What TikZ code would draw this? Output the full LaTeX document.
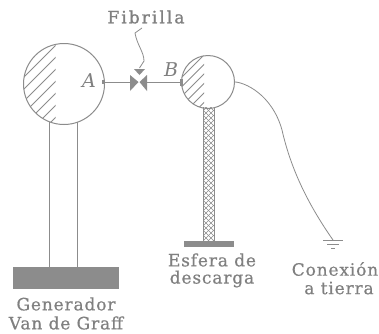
\documentclass[tikz,border=0pt]{standalone}
\usepackage{fontspec}
\setmainfont{DejaVu Serif}
\newfontfamily\labfont[LetterSpace=5,FakeBold=0.6]{DejaVu Serif}
\newfontfamily\fibfont[LetterSpace=12,FakeBold=1.2]{DejaVu Serif}
\definecolor{ink}{gray}{0.55}
\definecolor{inkd}{gray}{0.55}
\definecolor{txt}{gray}{0.5}
\tikzset{
  x=1pt,y=-1pt,
  ln/.style={draw=ink,line width=1pt},
  thin ln/.style={draw=ink,line width=0.8pt},
  solidfill/.style={fill=inkd,draw=none},
  lab/.style={text=txt,font=\labfont\fontsize{17}{19}\selectfont,inner sep=0pt,align=center},
  fiblab/.style={text=txt,font=\fibfont\fontsize{17}{19}\selectfont,inner sep=0pt},
  ital/.style={text=txt,font=\fontsize{19}{20}\itshape\selectfont,inner sep=0pt},
  sphere/.style={circle,ln,minimum size=#1,inner sep=0pt,outer sep=0pt},
}
\begin{document}
\begin{tikzpicture}
\useasboundingbox (0,0) rectangle (379,333);
\fill[white] (0,0) rectangle (379,333);
% sphere A
\node[sphere=81pt] (sa) at (64,84) {};
\begin{scope}
  \clip (64,84) circle (40.5);
  \clip (20,40) rectangle (55.5,128);
  \foreach \k in {0,...,11}{
    \draw[thin ln] (15,{62+12*\k}) -- (75,{2+12*\k});
  }
\end{scope}
% sphere B
\node[sphere=53pt] (sb) at (208,82) {};
\begin{scope}
  \clip (208,82) circle (26.5);
  \clip (178,50) rectangle (204,110);
  \foreach \k in {0,...,8}{
    \draw[thin ln] (170,{70+9.5*\k}) -- (215,{25+9.5*\k});
  }
\end{scope}
% stem A and base
\coordinate (al) at (49,121.5);
\coordinate (ar) at (77,122);
\node[solidfill,minimum width=106pt,minimum height=22pt,inner sep=0pt,outer sep=0pt] (basea) at (66,278) {};
\draw[ln] (al) -- (49,267);
\draw[ln] (ar) -- (77,267);
% stem B and base
\begin{scope}
  \clip (203,107) rectangle (214,240);
  \foreach \k in {0,...,40}{
    \draw[draw=ink,line width=0.55pt] (203,{100+5*\k}) -- (214,{111+5*\k});
    \draw[draw=ink,line width=0.55pt] (214,{100+5*\k}) -- (203,{111+5*\k});
  }
\end{scope}
\draw[ln] (203,107) -- (203,241);
\draw[ln] (214,107) -- (214,241);
\node[solidfill,minimum width=50pt,minimum height=6pt,inner sep=0pt,outer sep=0pt] (baseb) at (209,244) {};
% fibril
\coordinate (fl) at (130,82);
\coordinate (fr) at (147,82);
\fill[inkd] (130,75) -- (138.5,82) -- (130,91) -- cycle;
\fill[inkd] (147,75) -- (139.5,82) -- (147,91) -- cycle;
\draw[ln] (fl -| sa.east) -- (fl);
\draw[ln] (fl -| sb.west) -- (fr);
\fill[inkd] (102,80) rectangle (105,84);
\fill[inkd] (180,79) rectangle (183,86);
% arrow from label
\node[fiblab] (fib) at (146,17) {Fibrilla};
\coordinate (f0) at (142,28);
\coordinate (f1) at (135,33);
\coordinate (f2) at (144,61);
\draw[thin ln] (f0) -- (f1) .. controls (137,45) and (144,52) .. (f2) -- (139.5,68);
\fill[inkd] (134,69) -- (145,69) -- (139.5,75) -- cycle;
\node[ital] (la) at (89,81) {A};
\node[ital] (lb) at (171,70) {B};
% ground wire
\coordinate (g) at (333,240);
\draw[thin ln] (sb.east) .. controls (244,82) and (272,94) .. (282,130)
  .. controls (290,165) and (305,200) .. (g);
\draw[thin ln] (323,240) -- (343,240);
\draw[thin ln] (327,244) -- (339,244);
\draw[thin ln] (331,248) -- (335,248);
% labels
\node[lab] (gen) at (66,304) {Generador};
\node[lab] (van) at (66,323) {Van de Graff};
\node[lab] (esf) at (212,260) {Esfera de};
\node[lab] (des) at (212,279) {descarga};
\node[lab] (con) at (335,269) {Conexión};
\node[lab] (tie) at (339,288) {a tierra};
\end{tikzpicture}
\end{document}
